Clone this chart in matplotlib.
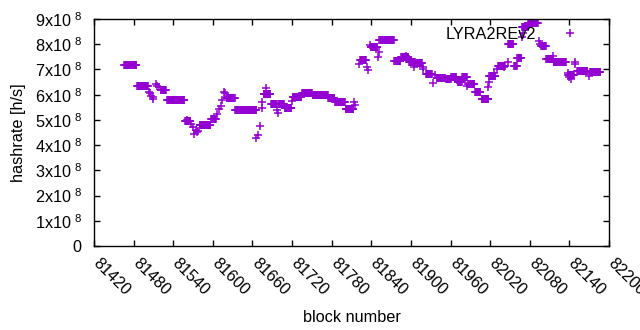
import numpy as np
import matplotlib
matplotlib.use('Agg')
import matplotlib.pyplot as plt
import matplotlib.transforms as mtransforms
from matplotlib.ticker import MultipleLocator, FuncFormatter

plt.rcParams['font.family'] = ['Liberation Sans', 'DejaVu Sans']
plt.rcParams['mathtext.default'] = 'regular'

# runs of blocks with the same hashrate (x 1e8 h/s)
run_start = [81466, 81485, 81521, 81531, 81558, 81580, 81597, 81621, 81634,
             81677, 81688, 81699, 81709, 81721, 81735, 81751, 81775, 81785,
             81801, 81823, 81839, 81852, 81875, 81885, 81897, 81908, 81923,
             81939, 81953, 81961, 81971, 81978, 81987, 81997, 82007, 82019,
             82032, 82047, 82056, 82061, 82068, 82078, 82097, 82105, 82116,
             82138, 82152, 82171]
run_end = [81484, 81502, 81529, 81557, 81566, 81596, 81605, 81633, 81666,
           81687, 81696, 81708, 81719, 81734, 81750, 81774, 81784, 81800,
           81813, 81832, 81849, 81874, 81884, 81896, 81906, 81917, 81932,
           81952, 81960, 81969, 81977, 81985, 81996, 82005, 82017, 82028,
           82042, 82055, 82060, 82067, 82077, 82092, 82104, 82115, 82135,
           82147, 82167, 82187]
run_val = [7.16, 6.36, 6.20, 5.80, 4.96, 4.78, 5.03, 5.87, 5.40,
           6.03, 5.64, 5.62, 5.46, 5.89, 6.07, 5.99, 5.88, 5.72,
           5.44, 7.39, 7.89, 8.16, 7.33, 7.50, 7.31, 7.26, 6.80,
           6.68, 6.61, 6.70, 6.51, 6.72, 6.42, 6.12, 5.84, 6.74,
           7.14, 7.99, 7.14, 7.46, 8.69, 8.83, 7.91, 7.40, 7.31,
           6.76, 6.93, 6.88]

# single blocks
pt_block = [81503, 81505, 81507, 81509, 81510, 81514, 81516, 81519,
            81561, 81567, 81570, 81572, 81574, 81576, 81578,
            81606, 81609, 81612, 81614, 81617, 81619, 81622,
            81666, 81668, 81672, 81674, 81675, 81680, 81697, 81698,
            81720, 81723, 81814, 81815, 81821, 81833, 81835, 81838,
            81850, 81851, 81892, 81905, 81918, 81919, 81933, 81937,
            81970, 81985, 82017, 82019, 82026, 82030, 82039, 82041,
            82047, 82068, 82070, 82094, 82096, 82115, 82138, 82139,
            82142, 82148, 82149, 82169]
pt_val = [6.12, 6.05, 5.95, 5.90, 5.82, 6.44, 6.36, 6.30,
          4.98, 4.82, 4.71, 4.45, 4.61, 4.53, 4.55,
          5.24, 5.43, 5.56, 5.80, 6.09, 6.07, 5.91,
          4.29, 4.39, 4.77, 5.48, 5.71, 6.25, 5.38, 5.27,
          5.75, 5.91, 5.69, 5.61, 7.23, 7.08, 6.97, 7.98,
          7.50, 7.69, 7.55, 7.08, 7.00, 7.08, 6.46, 6.76,
          6.57, 6.33, 6.30, 6.52, 6.86, 7.00, 7.13, 7.08,
          7.31, 8.27, 8.43, 8.14, 8.00, 7.55, 6.86, 6.70,
          6.63, 7.29, 7.22, 6.73]

blocks = []
rates = []
for s, e, v in zip(run_start, run_end, run_val):
    for b in range(s, e + 1):
        blocks.append(b)
        rates.append(v * 1e8)
for b, v in zip(pt_block, pt_val):
    blocks.append(b)
    rates.append(v * 1e8)

FS = 11.7

fig = plt.figure(figsize=(6.4, 3.3), dpi=100)
ax = fig.add_axes([94/640, 1-246/330, 515/640, 227/330])

ax.plot(blocks, rates, linestyle='none', marker='+', ms=5.2, mew=1.1,
        color='#9400d3', label='LYRA2REv2')

ax.set_xlim(81420, 82200)
ax.set_ylim(0, 9e8)
ax.xaxis.set_major_locator(MultipleLocator(60))
ax.yaxis.set_major_locator(MultipleLocator(1e8))

def yfmt(v, pos):
    n = int(round(v / 1e8))
    if n == 0:
        return '0'
    return '%dx10$^{\\ 8}$' % n

ax.yaxis.set_major_formatter(FuncFormatter(yfmt))
ax.tick_params(direction='in', length=4, width=1, top=True, right=True,
               labelsize=FS)
ax.tick_params(axis='y', pad=9)
ax.tick_params(axis='x', pad=11)
shift = mtransforms.ScaledTranslation(1.5/100, 0, fig.dpi_scale_trans)
for lab in ax.get_xticklabels():
    lab.set_rotation(-45)
    lab.set_ha('left')
    lab.set_va('center')
    lab.set_rotation_mode('anchor')
    lab.set_transform(lab.get_transform() + shift)
for sp in ax.spines.values():
    sp.set_linewidth(1)

ax.set_xlabel('block number', fontsize=FS, labelpad=8)
ax.set_ylabel('hashrate [h/s]', fontsize=FS, labelpad=6)

ax.legend(loc='upper right', bbox_to_anchor=(0.965, 0.965), markerfirst=False,
          frameon=False, fontsize=FS, handlelength=2.6, handletextpad=0.8,
          borderpad=0, borderaxespad=0)

fig.savefig('out.png', dpi=100)
